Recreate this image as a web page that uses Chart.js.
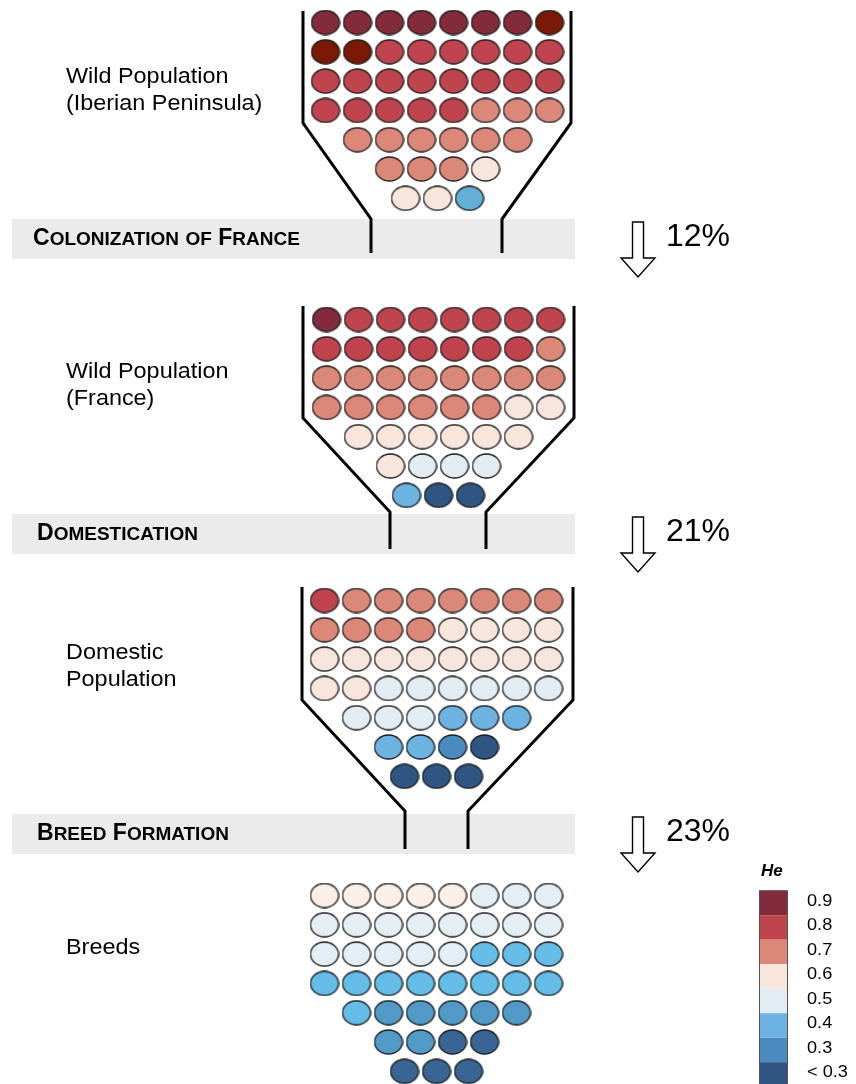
<!DOCTYPE html>
<html>
<head>
<meta charset="utf-8">
<script src="https://cdn.jsdelivr.net/npm/chart.js@4.4.1/dist/chart.umd.min.js"></script>
<style>
body { margin: 0; background: #fff; font-family: "Liberation Sans", Arial, sans-serif; color: #000; }
#wrap { position: relative; width: 856px; height: 1084px; overflow: hidden; }
#chart { position: absolute; left: 0; top: 0; }
.lbl { position: absolute; left: 66px; font-size: 22.5px; line-height: 27px; white-space: nowrap; transform: scaleX(1.04); transform-origin: left top; }
.stage { position: absolute; font-weight: bold; font-size: 23px; line-height: 26px; white-space: nowrap; }
.stage span { font-size: 19px; }
.pct { position: absolute; left: 666px; font-size: 32px; line-height: 36px; }
.he { position: absolute; left: 761px; top: 861px; font-size: 17px; line-height: 20px; font-weight: bold; font-style: italic; }
.tick { position: absolute; left: 807px; font-size: 16.5px; line-height: 18px; white-space: nowrap; transform: scaleX(1.1); transform-origin: left top; }
</style>
</head>
<body>
<div id="wrap">
  <canvas id="chart" width="856" height="1084"></canvas>
</div>
<script>
// He per individual, one row per line of the funnel (top to bottom)
const heIberia = [
    [0.9, 0.9, 0.9, 0.9, 0.9, 0.9, 0.9, 1.0],
    [1.0, 1.0, 0.8, 0.8, 0.8, 0.8, 0.8, 0.8],
    [0.8, 0.8, 0.8, 0.8, 0.8, 0.8, 0.8, 0.8],
    [0.8, 0.8, 0.8, 0.8, 0.8, 0.7, 0.7, 0.7],
    [0.7, 0.7, 0.7, 0.7, 0.7, 0.7],
    [0.7, 0.7, 0.7, 0.6],
    [0.6, 0.6, 0.4]
];
const heFrance = [
    [0.9, 0.8, 0.8, 0.8, 0.8, 0.8, 0.8, 0.8],
    [0.8, 0.8, 0.8, 0.8, 0.8, 0.8, 0.8, 0.7],
    [0.7, 0.7, 0.7, 0.7, 0.7, 0.7, 0.7, 0.7],
    [0.7, 0.7, 0.7, 0.7, 0.7, 0.7, 0.6, 0.6],
    [0.6, 0.6, 0.6, 0.6, 0.6, 0.6],
    [0.6, 0.5, 0.5, 0.5],
    [0.4, 0.2, 0.2]
];
const heDomestic = [
    [0.8, 0.7, 0.7, 0.7, 0.7, 0.7, 0.7, 0.7],
    [0.7, 0.7, 0.7, 0.7, 0.6, 0.6, 0.6, 0.6],
    [0.6, 0.6, 0.6, 0.6, 0.6, 0.6, 0.6, 0.6],
    [0.6, 0.6, 0.5, 0.5, 0.5, 0.5, 0.5, 0.5],
    [0.5, 0.5, 0.5, 0.4, 0.4, 0.4],
    [0.4, 0.4, 0.3, 0.2],
    [0.2, 0.2, 0.2]
];
const heBreeds = [
    [0.6, 0.6, 0.6, 0.6, 0.6, 0.5, 0.5, 0.5],
    [0.5, 0.5, 0.5, 0.5, 0.5, 0.5, 0.5, 0.5],
    [0.5, 0.5, 0.5, 0.5, 0.5, 0.4, 0.4, 0.4],
    [0.4, 0.4, 0.4, 0.4, 0.4, 0.4, 0.4, 0.4],
    [0.4, 0.3, 0.3, 0.3, 0.3, 0.3],
    [0.3, 0.3, 0.2, 0.2],
    [0.2, 0.2, 0.2]
];
const populations = ["Wild Population\n(Iberian Peninsula)", "Wild Population\n(France)", "Domestic\nPopulation", "Breeds"];
const stages = ["Colonization of France", "Domestication", "Breed Formation"];
const losses = ["12%", "21%", "23%"];
const heClasses = [0.9, 0.8, 0.7, 0.6, 0.5, 0.4, 0.3, 0.2];
const heTicks = ["0.9", "0.8", "0.7", "0.6", "0.5", "0.4", "0.3", "< 0.3"];

// colours
const heColors = { 1.0: "#7a1a06", 0.9: "#832a3b", 0.8: "#c0444e", 0.7: "#dc8878", 0.6: "#f8e5db",
                   0.5: "#e1ecf3", 0.4: "#6cb3e2", 0.3: "#4a8abf", 0.2: "#2f5583" };
const overrides = [
    { 0.4: "#64b0d4" },
    {},
    {},
    { 0.6: "#fcefe7", 0.5: "#e4eff5", 0.4: "#63bde6", 0.3: "#529bc8", 0.2: "#386594" }
];

// layout
const funnelX = [437.5, 438.5, 436.5, 436.5];
const funnelTop = [22.5, 319.5, 600.5, 895.5];
const colGap = 32, rowGap = 29.3;
const bandTop = [219, 514, 814], bandH = 40;
const walls = [
    { top: 11, knee: 123, mouth: 219, end: 253, outL: 303, outR: 571, inL: 371, inR: 502 },
    { top: 306, knee: 418, mouth: 512, end: 549, outL: 303, outR: 574, inL: 390, inR: 486 },
    { top: 587, knee: 700, mouth: 811, end: 849, outL: 302, outR: 573, inL: 405, inR: 468 }
];

const imgCache = {};
function ellipse(fill) {
    if (imgCache[fill]) return imgCache[fill];
    const c = document.createElement("canvas");
    c.width = 30; c.height = 26;
    const g = c.getContext("2d");
    g.beginPath();
    g.ellipse(15, 13, 14, 12, 0, 0, Math.PI * 2);
    g.fillStyle = fill;
    g.fill();
    g.lineWidth = 1.3;
    g.strokeStyle = "#1c1c1c";
    g.stroke();
    imgCache[fill] = c;
    return c;
}

const groups = [heIberia, heFrance, heDomestic, heBreeds];
const datasets = groups.map((rows, f) => {
    const pts = [];
    rows.forEach((row, r) => {
        row.forEach((v, i) => {
            pts.push({ x: funnelX[f] + (i - (row.length - 1) / 2) * colGap, y: funnelTop[f] + r * rowGap, v: v });
        });
    });
    return {
        label: populations[f],
        data: pts,
        pointStyle: ctx => ellipse(overrides[f][ctx.raw.v] || heColors[ctx.raw.v]),
        pointRadius: 14
    };
});

const backdrop = {
    id: "backdrop",
    beforeDatasetsDraw(chart) {
        const { ctx, scales: { x, y } } = chart;
        ctx.save();
        // grey bands
        ctx.fillStyle = "#ebebeb";
        bandTop.forEach(t => {
            ctx.fillRect(x.getPixelForValue(12), y.getPixelForValue(t), x.getPixelForValue(575) - x.getPixelForValue(12), y.getPixelForValue(t + bandH) - y.getPixelForValue(t));
        });
        // funnel walls
        ctx.strokeStyle = "#000";
        ctx.lineWidth = 3;
        ctx.lineJoin = "miter";
        walls.forEach(w => {
            [[w.outL, w.inL], [w.outR, w.inR]].forEach(([o, i]) => {
                ctx.beginPath();
                ctx.moveTo(x.getPixelForValue(o), y.getPixelForValue(w.top));
                ctx.lineTo(x.getPixelForValue(o), y.getPixelForValue(w.knee));
                ctx.lineTo(x.getPixelForValue(i), y.getPixelForValue(w.mouth));
                ctx.lineTo(x.getPixelForValue(i), y.getPixelForValue(w.end));
                ctx.stroke();
            });
        });
        // arrows
        ctx.lineWidth = 1.4;
        ctx.fillStyle = "#fff";
        bandTop.forEach(t => {
            const cx = 638, s = 5.5, hw = 17;
            ctx.beginPath();
            ctx.moveTo(x.getPixelForValue(cx - s), y.getPixelForValue(t + 3));
            ctx.lineTo(x.getPixelForValue(cx + s), y.getPixelForValue(t + 3));
            ctx.lineTo(x.getPixelForValue(cx + s), y.getPixelForValue(t + 39));
            ctx.lineTo(x.getPixelForValue(cx + hw), y.getPixelForValue(t + 39));
            ctx.lineTo(x.getPixelForValue(cx), y.getPixelForValue(t + 58));
            ctx.lineTo(x.getPixelForValue(cx - hw), y.getPixelForValue(t + 39));
            ctx.lineTo(x.getPixelForValue(cx - s), y.getPixelForValue(t + 39));
            ctx.closePath();
            ctx.fill();
            ctx.stroke();
        });
        // He colour bar
        heClasses.forEach((v, k) => {
            const top = 890.7 + k * 24.5;
            ctx.fillStyle = heColors[v];
            ctx.fillRect(x.getPixelForValue(759), y.getPixelForValue(top), 29, 24.5);
        });
        ctx.strokeStyle = "#555";
        ctx.lineWidth = 1;
        ctx.strokeRect(x.getPixelForValue(759) + 0.5, y.getPixelForValue(890.7), 28, 24.5 * 8);
        ctx.restore();
    }
};

new Chart(document.getElementById("chart").getContext("2d"), {
    type: "scatter",
    data: { datasets: datasets },
    options: {
        responsive: false,
        animation: false,
        events: [],
        devicePixelRatio: 1,
        layout: { padding: 0, autoPadding: false },
        plugins: { legend: { display: false }, tooltip: { enabled: false } },
        scales: {
            x: { type: "linear", min: 0, max: 856, display: false },
            y: { type: "linear", min: 0, max: 1084, reverse: true, display: false }
        }
    },
    plugins: [backdrop]
});

// text labels
const wrap = document.getElementById("wrap");
const labelTops = [62, 357, 638, 933];
populations.forEach((p, k) => {
    const d = document.createElement("div");
    d.className = "lbl";
    d.style.top = labelTops[k] + "px";
    d.innerHTML = p.split("\n").join("<br>");
    wrap.appendChild(d);
});
const stageLeft = [33, 37, 37];
stages.forEach((s, k) => {
    const d = document.createElement("div");
    d.className = "stage";
    d.style.left = stageLeft[k] + "px";
    d.style.top = (bandTop[k] + 5) + "px";
    d.innerHTML = s.toUpperCase().split(" ").map(w => w.length > 2 ? w[0] + "<span>" + w.slice(1) + "</span>" : "<span>" + w + "</span>").join(" ");
    wrap.appendChild(d);
    const p = document.createElement("div");
    p.className = "pct";
    p.style.top = (bandTop[k] - 2) + "px";
    p.textContent = losses[k];
    wrap.appendChild(p);
});
const he = document.createElement("div");
he.className = "he";
he.textContent = "He";
wrap.appendChild(he);
heTicks.forEach((t, k) => {
    const d = document.createElement("div");
    d.className = "tick";
    d.style.top = (890.5 + k * 24.5) + "px";
    d.textContent = t;
    wrap.appendChild(d);
});
</script>
</body>
</html>
